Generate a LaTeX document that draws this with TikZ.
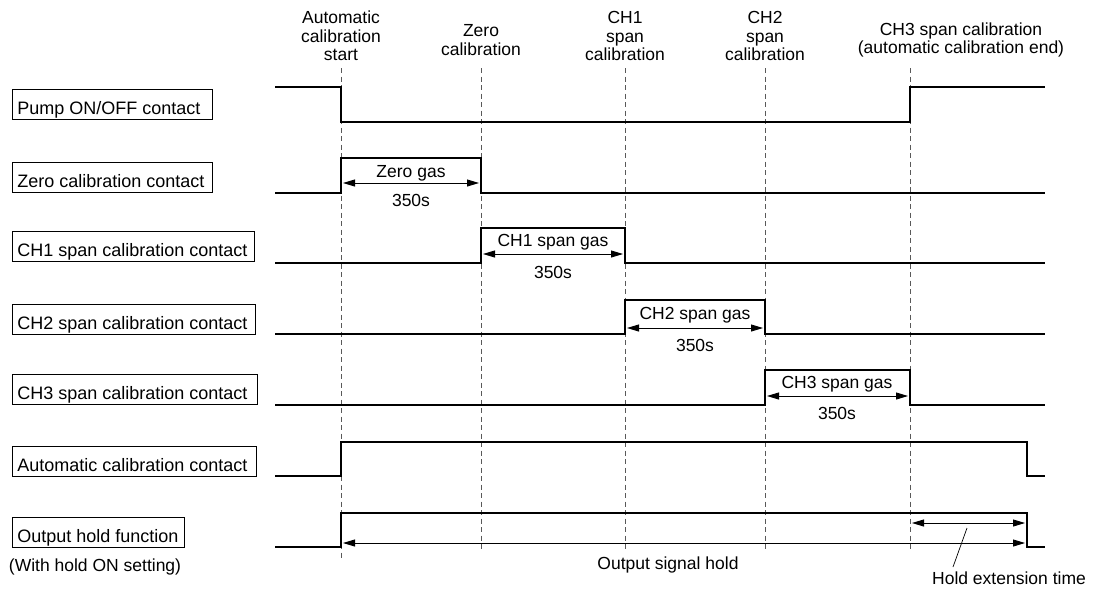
\documentclass[tikz,border=0pt]{standalone}
\usepackage{fontspec}
\setmainfont{Liberation Sans}
\usetikzlibrary{arrows.meta}
\newcommand{\lbltext}[2]{\makebox[#1][l]{#2}}
\begin{document}
\begin{tikzpicture}[x=1pt,y=-1pt,font=\fontsize{17.5}{18.5}\selectfont,
  sig/.style={line width=1.7pt},
  guide/.style={line width=0.9pt, black!65, dash pattern=on 5pt off 3.5pt},
  dim/.style={line width=0.9pt, {Triangle[length=12pt,width=7pt]}-{Triangle[length=12pt,width=7pt]}},
  lbl/.style={draw, line width=0.8pt, anchor=west, inner xsep=5pt, inner ysep=0pt, minimum height=30pt,
    text height=21pt, text depth=0pt, font=\fontsize{18}{19}\selectfont},
  txt/.style={align=center, inner sep=0pt}]
\useasboundingbox (0,0) rectangle (1095,590);

% guide lines
\foreach \x/\e in {341/558,481/551,625/551,765/551,910/551}
  \draw[guide] (\x,68) -- (\x,\e);

% top labels
\node[txt] (tA) at (341,36) {Automatic\\calibration\\start};
\node[txt] (tZ) at (481,40) {Zero\\calibration};
\node[txt] (t1) at (625,36) {CH1\\span\\calibration};
\node[txt] (t2) at (765,36) {CH2\\span\\calibration};
\node[txt] (t3) at (961,40) {CH3 span calibration\\(automatic calibration end)};

% left labels
\node[lbl] (lP) at (12,104) {\lbltext{190pt}{Pump ON/OFF contact}};
\node[lbl] (lZ) at (12,177) {\lbltext{190pt}{Zero calibration contact}};
\node[lbl] (l1) at (12,246) {\lbltext{232pt}{CH1 span calibration contact}};
\node[lbl] (l2) at (12,319) {\lbltext{233pt}{CH2 span calibration contact}};
\node[lbl] (l3) at (12,389) {\lbltext{235pt}{CH3 span calibration contact}};
\node[lbl] (lA) at (12,461) {\lbltext{234pt}{Automatic calibration contact}};
\node[lbl] (lO) at (12,532) {\lbltext{162pt}{Output hold function}};
\node[txt] (lW) at (95,567) {(With hold ON setting)};

% signals
\draw[sig] (275,87) -- (341,87) -- (341,122) -- (910,122) -- (910,87) -- (1045,87);
\draw[sig] (275,193) -- (341,193) -- (341,158) -- (481,158) -- (481,193) -- (1045,193);
\draw[sig] (275,263) -- (481,263) -- (481,228) -- (625,228) -- (625,263) -- (1045,263);
\draw[sig] (275,334) -- (625,334) -- (625,300) -- (765,300) -- (765,334) -- (1045,334);
\draw[sig] (275,405) -- (765,405) -- (765,370) -- (910,370) -- (910,405) -- (1045,405);
\draw[sig] (275,476) -- (341,476) -- (341,442) -- (1027,442) -- (1027,476) -- (1045,476);
\draw[sig] (275,547) -- (341,547) -- (341,513) -- (1027,513) -- (1027,547) -- (1045,547);

% duration arrows
\coordinate (zL) at (343,183); \coordinate (zR) at (479,183);
\draw[dim] (zL) -- (zR);
\node[txt] (zT) at (411,173) {Zero gas};
\node[txt] (zS) at (411,200) {350s};

\coordinate (aL) at (483,254); \coordinate (aR) at (623,254);
\draw[dim] (aL) -- (aR);
\node[txt] (aT) at (553,242) {CH1 span gas};
\node[txt] (aS) at (553,272) {350s};

\coordinate (bL) at (627,328); \coordinate (bR) at (763,328);
\draw[dim] (bL) -- (bR);
\node[txt] (bT) at (695,315) {CH2 span gas};
\node[txt] (bS) at (695,345) {350s};

\coordinate (cL) at (767,396); \coordinate (cR) at (908,396);
\draw[dim] (cL) -- (cR);
\node[txt] (cT) at (837,384) {CH3 span gas};
\node[txt] (cS) at (837,413) {350s};

% hold arrows
\coordinate (hL) at (912,523); \coordinate (hR) at (1025,523);
\draw[dim] (hL) -- (hR);
\coordinate (oL) at (343,543); \coordinate (oR) at (1025,543);
\draw[dim] (oL) -- (oR);
\node[txt] (oT) at (668,565) {Output signal hold};

\coordinate (pA) at (967,528); \coordinate (pB) at (953,567);
\draw[line width=0.7pt] (pA) -- (pB);
\node[txt] (hT) at (1009,578) {Hold extension time};
\end{tikzpicture}
\end{document}
